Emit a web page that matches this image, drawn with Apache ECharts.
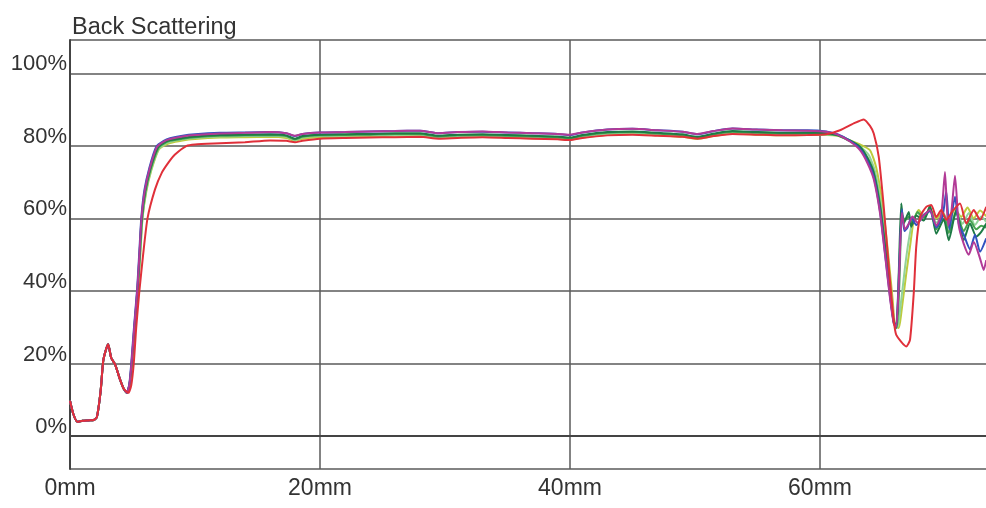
<!DOCTYPE html>
<html>
<head>
<meta charset="utf-8">
<script src="https://cdn.jsdelivr.net/npm/echarts@6/dist/echarts.min.js"></script>
<style>
  html, body { margin: 0; padding: 0; background: #ffffff; }
  #chart { width: 986px; height: 508px; }
</style>
</head>
<body>
<div id="chart"></div>
<script>
// Backscattering profiles along the sample height (mm -> %)
const chartTitle = 'Back Scattering';
const xTickStep = 20;          // mm between labelled ticks
const yTickStep = 20;          // % between labelled ticks
const xRange = [0, 73.28];     // visible height window, mm
const yRange = [-9.1, 109.2];  // visible backscattering window, %

// shared bottom part of the scans (all overlap here)
const baseStart = [[0,9.7],[0.27,6.0],[0.6,3.9],[1.0,4.2],[1.5,4.3],[1.9,4.4],[2.15,5.2],[2.45,12.4],[2.65,20.5],[2.85,23.5],[3.05,25.3],[3.3,21.5],[3.6,19.8],[4.0,15.6],[4.3,13.0],[4.55,11.9]];

const scanYellow = [[4.75,13.6],[4.97,20],[5.2,30],[5.45,40.5],[5.63,50.5],[5.8,60],[6.1,67.3],[6.5,73.2],[7.1,79.0],[7.5,80.0],[8,80.8],[9,81.5],[10,81.9],[12,82.3],[14,82.4],[16,82.5],[17.3,82.2],[18,81.4],[18.6,82.0],[20,82.4],[22,82.5],[24,82.6],[26,82.8],[28,82.8],[29.5,82.2],[31,82.4],[33,82.5],[35,82.3],[37,82.1],[39,81.9],[40,81.7],[41,82.3],[43,83.1],[45,83.3],[47,82.9],[49,82.5],[50.2,81.9],[51.5,82.7],[53,83.4],[55,83.1],[57,82.9],[59,83.0],[60.5,83.0],[61.4,82.8],[62.2,81.8],[63.2,80.4],[64.0,78.8],[64.5,74.0],[65.0,64.0],[65.4,52.0],[65.8,38.0],[66.0,30.6],[66.3,29.8],[66.5,33.8],[66.9,44.8],[67.2,52.2],[67.5,59.5],[67.9,62.3],[68.3,60.5],[68.8,62.6],[69.3,60.0],[69.8,61.6],[70.3,59.0],[70.8,62.6],[71.3,60.4],[71.8,63.0],[72.3,60.0],[72.8,62.2],[73.3,60.6]];

const scanLightGreen = [[4.75,13.8],[4.96,20],[5.19,30],[5.44,40.5],[5.62,50.5],[5.79,60],[6.08,67.4],[6.48,73.3],[7.08,79.1],[7.5,80.3],[8,81.1],[9,81.8],[10,82.2],[12,82.6],[14,82.7],[16,82.8],[17.3,82.5],[18,81.6],[18.6,82.3],[20,82.7],[22,82.8],[24,82.9],[26,83.0],[28,83.1],[29.5,82.4],[31,82.7],[33,82.8],[35,82.6],[37,82.4],[39,82.2],[40,81.9],[41,82.6],[43,83.3],[45,83.6],[47,83.2],[49,82.8],[50.2,82.1],[51.5,83.0],[53,83.7],[55,83.4],[57,83.2],[59,83.3],[60.5,83.1],[61.4,82.9],[62.3,81.5],[63.2,79.9],[63.9,77.5],[64.4,73.0],[64.9,63.5],[65.3,52.0],[65.7,39.0],[65.95,31.0],[66.2,30.0],[66.45,36.0],[66.8,46.5],[67.1,54.0],[67.4,59.0],[67.8,61.5],[68.3,60.0],[68.8,62.3],[69.3,58.8],[69.9,61.2],[70.3,57.5],[70.9,62.0],[71.4,58.5],[71.9,61.5],[72.4,58.2],[72.9,60.5],[73.3,59.0]];

const scanGreen = [[4.75,14.0],[4.95,20],[5.17,30],[5.42,40.5],[5.6,50.5],[5.77,60],[6.05,67.5],[6.45,73.5],[7.05,79.3],[7.5,80.6],[8,81.4],[9,82.0],[10,82.4],[12,82.8],[14,82.9],[16,83.0],[17.3,82.7],[18,81.8],[18.6,82.5],[20,82.9],[22,83.0],[24,83.1],[26,83.3],[28,83.3],[29.5,82.6],[31,82.9],[33,83.0],[35,82.8],[37,82.6],[39,82.4],[40,82.1],[41,82.8],[43,83.6],[45,83.8],[47,83.4],[49,83.0],[50.2,82.3],[51.5,83.2],[53,83.9],[55,83.6],[57,83.4],[59,83.5],[60.5,83.3],[61.4,82.9],[62.4,81.3],[63.2,79.8],[63.8,76.8],[64.3,72.8],[64.8,64.0],[65.2,53.0],[65.6,40.0],[65.9,31.5],[66.15,29.9],[66.35,42.0],[66.55,61.0],[66.8,59.5],[67.1,60.5],[67.4,58.5],[67.8,61.8],[68.3,60.2],[68.8,62.8],[69.3,57.0],[69.9,61.0],[70.3,56.0],[70.9,61.5],[71.5,56.5],[72.0,59.5],[72.5,57.0],[72.9,58.0],[73.3,57.5]];

const scanDarkGreen = [[4.75,14.0],[4.93,20],[5.15,30],[5.4,40.5],[5.57,50.5],[5.73,60],[6.0,67.5],[6.4,73.5],[7.0,79.5],[7.5,80.9],[8,81.6],[9,82.2],[10,82.6],[12,83.0],[14,83.1],[16,83.2],[17.3,82.9],[18,82.0],[18.6,82.7],[20,83.1],[22,83.2],[24,83.3],[26,83.5],[28,83.5],[29.5,82.8],[31,83.1],[33,83.2],[35,83.0],[37,82.8],[39,82.6],[40,82.3],[41,83.0],[43,83.8],[45,84.0],[47,83.6],[49,83.2],[50.2,82.5],[51.5,83.4],[53,84.1],[55,83.8],[57,83.6],[59,83.7],[60.5,83.5],[61.4,83.0],[62.4,81.5],[63.2,79.7],[63.8,76.5],[64.3,72.4],[64.8,63.2],[65.2,52.2],[65.6,39.4],[65.9,31.2],[66.1,29.7],[66.3,44.8],[66.5,64.1],[66.7,58.6],[67.1,61.8],[67.3,57.7],[67.7,60.8],[68.3,59.4],[68.8,63.5],[69.3,55.8],[69.9,59.8],[70.3,54.0],[70.9,62.3],[71.5,54.0],[72.0,58.6],[72.5,55.0],[72.9,56.3],[73.3,58.6]];

const scanBlue = [[4.75,14.5],[4.9,20],[5.12,30],[5.37,40.5],[5.54,50.5],[5.7,60],[5.95,67.8],[6.35,74.0],[6.9,79.8],[7.5,81.4],[8,82.1],[9,82.8],[10,83.2],[12,83.6],[14,83.7],[16,83.8],[17.3,83.5],[18,82.7],[18.6,83.3],[20,83.7],[22,83.8],[24,84.0],[26,84.1],[28,84.2],[29.5,83.5],[31,83.8],[33,83.9],[35,83.7],[37,83.5],[39,83.3],[40,83.0],[41,83.7],[43,84.5],[45,84.7],[47,84.3],[49,83.9],[50.2,83.2],[51.5,84.1],[53,84.8],[55,84.5],[57,84.3],[59,84.3],[60.5,84.0],[61.4,83.2],[62.4,81.4],[63.2,79.2],[63.8,75.8],[64.3,71.5],[64.8,62.0],[65.2,50.5],[65.6,38.5],[65.9,31.5],[66.1,30.3],[66.35,47.5],[66.55,62.5],[66.75,56.5],[67.0,57.5],[67.3,60.2],[67.7,58.2],[68.3,61.0],[68.8,62.0],[69.3,57.5],[69.8,60.5],[70.1,67.5],[70.35,57.0],[70.8,66.0],[71.1,58.5],[71.5,55.5],[72.0,51.5],[72.4,55.5],[72.8,50.8],[73.3,54.5]];

const scanMagenta = [[4.75,14.2],[4.92,20],[5.14,30],[5.39,40.5],[5.56,50.5],[5.72,60],[5.98,67.6],[6.38,73.8],[6.95,79.7],[7.5,81.2],[8,81.9],[9,82.6],[10,83.0],[12,83.4],[14,83.6],[16,83.8],[17.3,83.5],[18,82.8],[18.6,83.3],[20,83.7],[22,83.8],[24,84.0],[26,84.1],[28,84.2],[29.5,83.5],[31,83.8],[33,84.0],[35,83.7],[37,83.5],[39,83.3],[40,83.1],[41,83.7],[43,84.5],[45,84.7],[47,84.3],[49,83.9],[50.2,83.3],[51.5,84.1],[53,84.8],[55,84.5],[57,84.3],[59,84.2],[60.5,83.9],[61.4,83.1],[62.4,81.2],[63.2,78.8],[63.8,75.2],[64.3,70.8],[64.8,61.5],[65.2,50.0],[65.6,38.0],[65.9,31.0],[66.1,30.0],[66.35,46.0],[66.55,61.5],[66.8,57.0],[67.1,58.5],[67.4,60.5],[67.8,58.8],[68.3,60.8],[68.8,62.3],[69.3,58.0],[69.7,61.0],[70.0,72.8],[70.25,58.0],[70.5,61.5],[70.8,71.8],[71.1,58.0],[71.5,53.0],[71.9,50.0],[72.3,53.5],[72.8,49.0],[73.1,45.8],[73.3,48.5]];

const scanRed = [[4.67,11.9],[4.9,14.0],[5.1,20],[5.3,30],[5.55,40],[5.85,50],[6.2,60],[6.8,68.0],[7.33,72.5],[7.9,75.5],[8.4,77.6],[9.33,80.0],[10,80.4],[12,80.7],[14,81.0],[16,81.5],[17.3,81.4],[18,81.0],[18.6,81.4],[20,82.0],[22,82.2],[24,82.3],[26,82.4],[28,82.5],[29.5,82.0],[31,82.2],[33,82.4],[35,82.2],[37,82.0],[39,81.8],[40,81.6],[41,82.2],[43,82.9],[45,83.1],[47,82.8],[49,82.5],[50.2,82.0],[51.5,82.7],[53,83.3],[55,83.1],[57,82.9],[59,83.0],[60.5,83.2],[61.6,84.3],[62.7,86.2],[63.5,87.3],[64.0,85.5],[64.3,83.4],[64.7,77.0],[65.1,63.2],[65.5,46.7],[65.9,32.0],[66.1,27.9],[66.9,24.7],[67.2,26.5],[67.5,39.4],[67.7,52.2],[68.0,60.4],[68.5,63.2],[68.9,63.7],[69.3,60.4],[69.7,62.3],[70.1,59.6],[70.6,62.0],[71.2,64.1],[71.7,58.6],[72.3,62.3],[72.8,59.6],[73.3,63.2]];

const scans = [
  { name: 'yellow', color: '#bccb3c', points: scanYellow },
  { name: 'light green', color: '#92d39a', points: scanLightGreen },
  { name: 'green', color: '#45a24e', points: scanGreen },
  { name: 'dark green', color: '#1d7a45', points: scanDarkGreen },
  { name: 'blue', color: '#3153c0', points: scanBlue },
  { name: 'magenta', color: '#b23a96', points: scanMagenta },
  { name: 'red', color: '#e0303a', points: scanRed }
];

const gridColor = '#5a5a5a';
const textColor = '#333333';
const font = 'Liberation Sans, Arial, sans-serif';

const chart = echarts.init(document.getElementById('chart'), null, { renderer: 'canvas' });

chart.setOption({
  animation: false,
  backgroundColor: '#ffffff',
  title: {
    text: chartTitle,
    left: 67,
    top: 11,
    textStyle: { fontFamily: font, fontSize: 23.5, fontWeight: 'normal', color: textColor }
  },
  grid: { left: 70, right: 0, top: 40, bottom: 39, containLabel: false },
  xAxis: {
    type: 'value',
    min: xRange[0],
    max: xRange[1],
    interval: xTickStep,
    axisLine: { show: true, lineStyle: { color: '#444', width: 2 } },
    axisTick: { show: false },
    axisLabel: {
      fontFamily: font, fontSize: 23, color: textColor, margin: 8,
      showMaxLabel: false,
      formatter: '{value}mm'
    },
    splitLine: { show: true, showMaxLine: false, lineStyle: { color: gridColor, width: 1.5 } }
  },
  yAxis: {
    type: 'value',
    min: yRange[0],
    max: yRange[1],
    minInterval: yTickStep,
    maxInterval: yTickStep,
    axisLine: { show: true, lineStyle: { color: '#444', width: 2 } },
    axisTick: { show: false },
    axisLabel: {
      fontFamily: font, fontSize: 22, color: textColor, margin: 3,
      showMinLabel: false, showMaxLabel: false,
      verticalAlign: 'bottom',
      lineHeight: 18,
      formatter: '{value}%'
    },
    splitLine: { show: true, lineStyle: { color: gridColor, width: 1.5 } }
  },
  series: scans.map(s => ({
    name: s.name,
    type: 'line',
    data: s.name === 'red' ? baseStart.slice(0, baseStart.length - 1).concat(s.points) : baseStart.concat(s.points),
    showSymbol: false,
    symbol: 'none',
    smooth: 0.2,
    lineStyle: { color: s.color, width: 2 },
    itemStyle: { color: s.color },
    silent: true
  }))
});
</script>
</body>
</html>
